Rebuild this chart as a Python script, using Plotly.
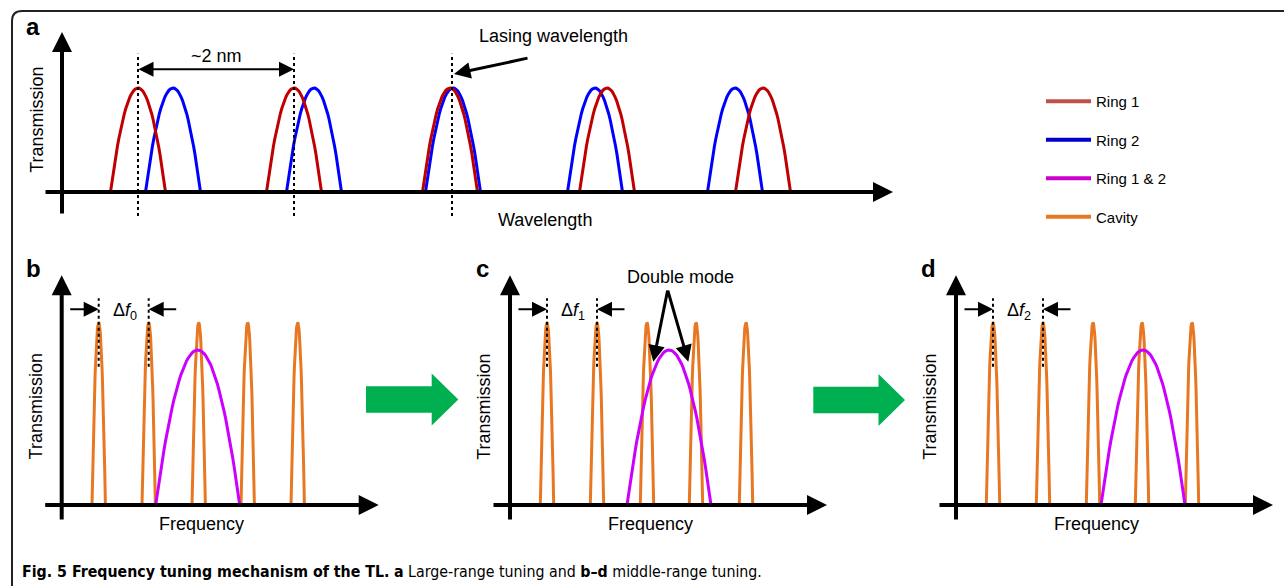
import numpy as np
import plotly.graph_objects as go

W, H = 1284, 586

# ---------------- data ----------------
# Panel a: wavelength (a.u.), transmission normalised to the peak
ring1_peaks_a = [76, 232, 388, 545, 701]
ring2_peaks_a = [111, 252, 391, 533, 673]
ring_halfwidth_a = 27.5
ring_height_a = 1.0
marked_ring1_peaks = [76, 232]
lasing_wavelength = 390

# Panels b-d: frequency (a.u.)
panel_names = ["b", "c", "d"]
cavity_peaks = [37, 87, 137, 186, 236]
cavity_halfwidth = 6.7
cavity_height = 1.0
combined_centres = [136, 159, 187]
combined_halfwidth = 42
combined_height = 0.85
delta_subscripts = ["0", "1", "2"]

# legend entries
legend_names = ["Ring 1", "Ring 2", "Ring 1 & 2", "Cavity"]
legend_colors = ["#c0504d", "#0000cc", "#cc00cc", "#e87722"]

# ---------------- styles ----------------
RED = "#c00000"
BLUE = "#0000ff"
PURPLE = "#cc00ff"
ORANGE = "#e87722"
FONT = "Liberation Sans, Arial, sans-serif"


def px2x(px):
    return px / W


def px2y(py):
    return 1 - py / H


def peak_curve(centres, hw, height, n=41):
    xs, ys = [], []
    for c in centres:
        t = np.linspace(-1, 1, n)
        xs += list(c + hw * t) + [None]
        ys += list(height * (1 - t ** 2)) + [None]
    return xs, ys


fig = go.Figure()
annotations = []
shapes = []

# ---------------- panel a ----------------
A_ORIGIN_X, A_AXIS_Y, A_UNIT = 62, 192, 104.0
a_dom_px = (18, 900)
a_ydom_px = (14, 232)
fig.update_layout(
    xaxis=dict(domain=[px2x(a_dom_px[0]), px2x(a_dom_px[1])],
               range=[a_dom_px[0] - A_ORIGIN_X, a_dom_px[1] - A_ORIGIN_X],
               visible=False, anchor="y"),
    yaxis=dict(domain=[px2y(a_ydom_px[1]), px2y(a_ydom_px[0])],
               range=[(A_AXIS_Y - a_ydom_px[1]) / A_UNIT, (A_AXIS_Y - a_ydom_px[0]) / A_UNIT],
               visible=False, anchor="x"),
)

xs, ys = peak_curve(ring2_peaks_a, ring_halfwidth_a, ring_height_a)
fig.add_trace(go.Scatter(x=xs, y=ys, mode="lines", line=dict(color=BLUE, width=3),
                         showlegend=False, hoverinfo="skip", xaxis="x", yaxis="y"))
xs, ys = peak_curve(ring1_peaks_a, ring_halfwidth_a, ring_height_a)
fig.add_trace(go.Scatter(x=xs, y=ys, mode="lines", line=dict(color=RED, width=3),
                         showlegend=False, hoverinfo="skip", xaxis="x", yaxis="y"))

dx, dy = [], []
for p in marked_ring1_peaks + [lasing_wavelength]:
    dx += [p, p, None]
    dy += [-0.23, 1.33, None]
fig.add_trace(go.Scatter(x=dx, y=dy, mode="lines", line=dict(color="black", width=2, dash="3px,3px"),
                         showlegend=False, hoverinfo="skip", xaxis="x", yaxis="y"))


def arrow(xref, yref, x0, y0, x1, y1, width, size, both=False, head=2):
    annotations.append(dict(
        xref=xref, yref=yref, axref=xref, ayref=yref,
        x=x1, y=y1, ax=x0, ay=y0, text="", showarrow=True,
        arrowhead=head, startarrowhead=head, arrowsize=size, startarrowsize=size,
        arrowwidth=width, arrowcolor="black",
        arrowside="end+start" if both else "end",
        standoff=0, startstandoff=0, font=dict(size=1), borderpad=0,
    ))


def label(xref, yref, x, y, text, size=18, angle=0, bold=False, xanchor="center"):
    annotations.append(dict(
        xref=xref, yref=yref, x=x, y=y, text=f"<b>{text}</b>" if bold else text,
        showarrow=False, textangle=angle, xanchor=xanchor, yanchor="middle",
        font=dict(family=FONT, size=size, color="black"),
    ))


# axes of panel a
arrow("x", "y", -17, 0, 831, 0, 4, 1)
arrow("x", "y", 0, (A_AXIS_Y - 214) / A_UNIT, 0, (A_AXIS_Y - 32) / A_UNIT, 4, 1)
# ~2 nm arrow
arrow("x", "y", marked_ring1_peaks[0], 1.18, marked_ring1_peaks[1], 1.18, 2, 1.5, both=True)
label("x", "y", sum(marked_ring1_peaks) / 2, 1.31, "~2 nm", 18)
# lasing wavelength arrow
arrow("x", "y", 466, 1.288, lasing_wavelength + 2, 1.135, 3, 1.1)
label("x", "y", 491, 1.50, "Lasing wavelength", 18)
label("x", "y", 483, -0.27, "Wavelength", 18)
label("x", "y", -25.3, 0.692, "Transmission", 18, angle=-90)
label("x", "y", -29, 1.587, "a", 24, bold=True)

# ---------------- panels b-d ----------------
BCD_AXIS_Y, BCD_UNIT = 505, 182.3
origins_px = [61.7, 510, 956]
bcd_ydom_px = (258, 545)
for i, name in enumerate(panel_names):
    k = i + 2
    xa, ya = f"x{k}", f"y{k}"
    ox = origins_px[i]
    left_px = ox - 40
    right_px = min(ox + 330, W)
    fig.update_layout({
        f"xaxis{k}": dict(domain=[px2x(left_px), px2x(right_px)],
                          range=[left_px - ox, right_px - ox], visible=False, anchor=ya),
        f"yaxis{k}": dict(domain=[px2y(bcd_ydom_px[1]), px2y(bcd_ydom_px[0])],
                          range=[(BCD_AXIS_Y - bcd_ydom_px[1]) / BCD_UNIT,
                                 (BCD_AXIS_Y - bcd_ydom_px[0]) / BCD_UNIT],
                          visible=False, anchor=xa),
    })
    xs, ys = peak_curve(cavity_peaks, cavity_halfwidth, cavity_height)
    fig.add_trace(go.Scatter(x=xs, y=ys, mode="lines", line=dict(color=ORANGE, width=3),
                             showlegend=False, hoverinfo="skip", xaxis=xa, yaxis=ya))
    xs, ys = peak_curve([combined_centres[i]], combined_halfwidth, combined_height, n=61)
    fig.add_trace(go.Scatter(x=xs, y=ys, mode="lines", line=dict(color=PURPLE, width=3),
                             showlegend=False, hoverinfo="skip", xaxis=xa, yaxis=ya))
    dx, dy = [], []
    for p in cavity_peaks[:2]:
        dx += [p, p, None]
        dy += [0.759, 1.134, None]
    fig.add_trace(go.Scatter(x=dx, y=dy, mode="lines",
                             line=dict(color="black", width=2, dash="3px,3px"),
                             showlegend=False, hoverinfo="skip", xaxis=xa, yaxis=ya))
    # axes
    arrow(xa, ya, -17, 0, 317, 0, 4, 1)
    arrow(xa, ya, 0, -0.082, 0, 1.26, 4, 1)
    # delta f arrows
    arrow(xa, ya, cavity_peaks[0] - 29, 1.0735, cavity_peaks[0], 1.0735, 2, 1.5)
    arrow(xa, ya, cavity_peaks[1] + 28, 1.0735, cavity_peaks[1], 1.0735, 2, 1.5)
    label(xa, ya, (cavity_peaks[0] + cavity_peaks[1]) / 2 + 1, 1.062,
          f"Δ<i>f</i><sub>{delta_subscripts[i]}</sub>", 18)
    label(xa, ya, -26, 0.539, "Transmission", 18, angle=-90)
    label(xa, ya, 140, -0.104, "Frequency", 18)
    label(xa, ya, -28, 1.30, name, 24, bold=True)

# double mode annotation (panel c)
label("x3", "y3", 170, 1.252, "Double mode", 18)
arrow("x3", "y3", 157.7, 1.179, 143.3, 0.786, 3, 1.1)
arrow("x3", "y3", 157.7, 1.179, 178.3, 0.786, 3, 1.1)

# ---------------- legend (dummy traces) ----------------
for i, (n, c) in enumerate(zip(legend_names, legend_colors)):
    fig.add_trace(go.Scatter(x=[None], y=[None], mode="lines", name=n,
                             line=dict(color=c, width=4), legendgroup=f"g{i}",
                             xaxis="x", yaxis="y", hoverinfo="skip"))

# ---------------- green arrows & frame ----------------
def green_arrow(x0, x_head, x_tip, yc):
    body = 13.3
    head = 26
    pts = [(x0, yc - body), (x_head, yc - body), (x_head, yc - head), (x_tip, yc),
           (x_head, yc + head), (x_head, yc + body), (x0, yc + body)]
    path = "M " + " L ".join(f"{px2x(a):.5f},{px2y(b):.5f}" for a, b in pts) + " Z"
    shapes.append(dict(type="path", xref="paper", yref="paper", path=path,
                       fillcolor="#00b050", line=dict(width=0)))


green_arrow(366, 431.7, 458.3, 399.5)
green_arrow(813.3, 878.5, 905, 400)

r = 10
frame = (f"M {px2x(12):.5f},{px2y(600):.5f} L {px2x(12):.5f},{px2y(11 + r):.5f} "
         f"Q {px2x(12):.5f},{px2y(11):.5f} {px2x(12 + r):.5f},{px2y(11):.5f} "
         f"L {px2x(1300):.5f},{px2y(11):.5f}")
shapes.append(dict(type="path", xref="paper", yref="paper", path=frame,
                   line=dict(color="#222222", width=2)))

# caption
annotations.append(dict(
    xref="paper", yref="paper", x=px2x(20), y=px2y(571), xanchor="left", yanchor="middle",
    showarrow=False,
    text="<b>Fig. 5 Frequency tuning mechanism of the TL.</b> <b>a</b> Large-range tuning and "
         "<b>b–d</b> middle-range tuning.",
    font=dict(family="DejaVu Sans Condensed, Liberation Sans Narrow, Liberation Sans, sans-serif",
              size=15.8, color="black"),
))

fig.update_layout(
    width=W, height=H, margin=dict(l=0, r=0, t=0, b=0),
    paper_bgcolor="white", plot_bgcolor="rgba(0,0,0,0)",
    annotations=annotations, shapes=shapes,
    showlegend=True,
    legend=dict(x=px2x(1041), y=px2y(85), xanchor="left", yanchor="top",
                bgcolor="rgba(0,0,0,0)", tracegroupgap=16, itemwidth=45,
                font=dict(family=FONT, size=15, color="black")),
)

fig.write_html("out.html", config={"displayModeBar": False},
               post_script="document.body.style.margin='0px';")
